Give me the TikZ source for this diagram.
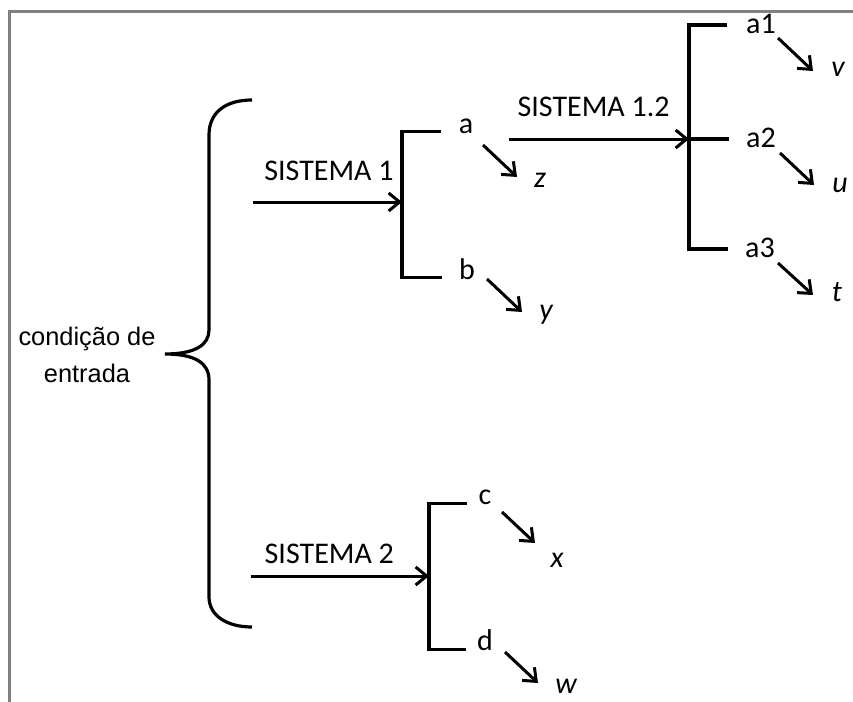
\documentclass[tikz,border=0pt]{standalone}
\usepackage{fontspec}
\setmainfont{Carlito}
\newfontfamily\condfont{Liberation Sans}
\usepackage{tikz}
\usetikzlibrary{arrows.meta}
\usetikzlibrary{positioning}

\begin{document}
\begin{tikzpicture}[x=0.5pt, y=-0.5pt, >={Straight Barb[length=5.5pt,width=9pt]},
                    every node/.style={font=\fontsize{15}{18}\selectfont, inner sep=2pt},
                    chave/.style={line width=1.6pt},
                    seta/.style={->, line width=1.5pt},
                    saida/.style={font=\fontsize{15}{18}\selectfont\itshape}]
\useasboundingbox (0,0) rectangle (853,702);
\draw[gray, line width=1.5pt] (9,702) -- (9,11) -- (853,11);

\node[font=\condfont\fontsize{12.7}{18.5}\selectfont, align=center] (cond) at (87,355) {condição de\\entrada};
\draw[chave] (252,100) .. controls (226,100) and (209,112) .. (209,135) -- (209,330)
    .. controls (209,345) and (195,354) .. (165,354)
    .. controls (195,354) and (209,363) .. (209,380) -- (209,597)
    .. controls (209,615) and (226,627) .. (252,627);

\node (a) at (466,126) {a};
\node (b) at (467,269) {b};
\coordinate (s1in) at (253,202);
\coordinate (j1) at (402,202);
\draw[seta] (s1in) -- (j1) node[pos=0.51, above=8pt] (s1) {SISTEMA 1};
\draw[chave] ([shift={(-13,-2)}]a.base west) -| (j1) |- ([shift={(-13,-2)}]b.base west);
\node[saida] (z) at (540,180) {z};
\node[saida] (y) at (546,315) {y};
\draw[seta] ([shift={(17,19)}]a.center) -- ([shift={(-23,-3)}]z.center);
\draw[seta] ([shift={(20,10)}]b.center) -- ([shift={(-24,-3)}]y.center);

\node (a1) at (761,24) {a1};
\node (a2) at (761,138) {a2};
\node (a3) at (760,248) {a3};
\coordinate (j12) at (689,139);
\draw[seta] ([shift={(43,13)}]a.center) -- (j12) node[pos=0.47, above=8.5pt] (s12) {SISTEMA 1.2};
\draw[chave] ([shift={(-15,1)}]a1.west) -| (j12) |- ([shift={(-13,1)}]a3.west);
\draw[chave] (j12) -- ([shift={(-13,1)}]a2.west);
\node[saida] (v) at (838,69) {v};
\node[saida] (u) at (840,185) {u};
\node[saida] (t) at (837,292) {t};
\draw[seta] ([shift={(17,14)}]a1.center) -- ([shift={(-25,2)}]v.center);
\draw[seta] ([shift={(19,15)}]a2.center) -- ([shift={(-26,0)}]u.center);
\draw[seta] ([shift={(18,15)}]a3.center) -- ([shift={(-24,3)}]t.center);

\node (c) at (485,497) {c};
\node (d) at (485,640) {d};
\coordinate (s2in) at (251,576);
\coordinate (j2) at (429,576);
\draw[seta] (s2in) -- (j2) node[pos=0.44, above=3.5pt] (s2) {SISTEMA 2};
\draw[chave] ([shift={(-7,-1)}]c.base west) -| (j2) |- ([shift={(-7,-1)}]d.base west);
\node[saida] (x) at (557,560) {x};
\node[saida] (w) at (566,686) {w};
\draw[seta] ([shift={(17,15)}]c.center) -- ([shift={(-22,-17)}]x.center);
\draw[seta] ([shift={(20,12)}]d.center) -- ([shift={(-28,-3)}]w.center);
\end{tikzpicture}
\end{document}
